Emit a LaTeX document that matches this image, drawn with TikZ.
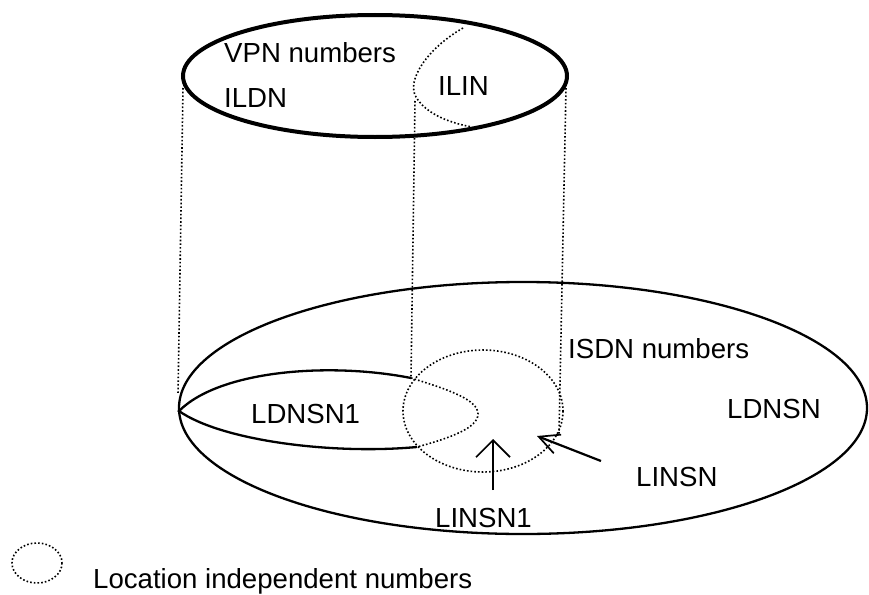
\documentclass[tikz,border=0pt]{standalone}
\usepackage{fontspec}
\setmainfont{Liberation Sans}
\usetikzlibrary{arrows.meta}
\begin{document}
\begin{tikzpicture}[x=1pt,y=-1pt,
  lbl/.style={anchor=base west, inner sep=0pt, font=\fontsize{27.6}{32}\selectfont},
  dots/.style={line width=1.6pt, dash pattern=on 1.6pt off 2.1pt},
  bold/.style={line width=4pt},
  rim/.style={line width=2.3pt},
  pointer/.style={line width=2.2pt, -{Straight Barb[length=17pt,width=34pt,line width=1.7pt]}}
]
\useasboundingbox (0,0) rectangle (869,594);
\fill[white] (0,0) rectangle (869,594);

% upper set: VPN numbers
\draw[bold] (375,76) ellipse [x radius=192, y radius=61];
\draw[dots] (463,28) .. controls (428,48) and (406,80) .. (416,97)
            .. controls (425,112) and (445,122) .. (472,127);

% lower set: ISDN numbers
\draw[rim] (523,408) ellipse [x radius=344, y radius=126];

% LDNSN1 region
\draw[rim] (411,378) .. controls (330,362) and (220,370) .. (179,411)
           .. controls (220,440) and (330,455) .. (417,447);
\draw[dots] (411,378) .. controls (450,390) and (478,400) .. (478,414)
            .. controls (478,428) and (450,438) .. (417,447);

% location independent numbers
\draw[dots] (483,411) ellipse [x radius=80, y radius=61];

% projection lines
\coordinate (pl1) at (183,88);  \coordinate (pl2) at (178,395);
\coordinate (pm1) at (415,101); \coordinate (pm2) at (411,377);
\coordinate (pr1) at (566,88);  \coordinate (pr2) at (559,434);
\draw[dots] (pl1) -- (pl2);
\draw[dots] (pm1) -- (pm2);
\draw[dots] (pr1) -- (pr2);

% pointers
\coordinate (a1tail) at (493,490); \coordinate (a1tip) at (493,439);
\coordinate (a2tail) at (601,461); \coordinate (a2tip) at (537,436);
\draw[pointer] (a1tail) -- (a1tip);
\draw[pointer, -{Straight Barb[length=20pt,width=20pt,line width=1.7pt]}] (a2tail) -- (a2tip);

% legend
\draw[dots] (37,563) ellipse [x radius=25, y radius=20];

% labels
\node[lbl] (vpn)   at (224,63)  {VPN numbers};
\node[lbl] (ildn)  at (224,107) {ILDN};
\node[lbl] (ilin)  at (438,95)  {ILIN};
\node[lbl] (ldnsn1) at (251,423) {LDNSN1};
\node[lbl] (isdn)  at (568,358) {ISDN numbers};
\node[lbl] (ldnsn) at (727,418) {LDNSN};
\node[lbl] (linsn) at (636,486) {LINSN};
\node[lbl] (linsn1) at (435,527) {LINSN1};
\node[lbl] (legend) at (93,588) {Location independent numbers};
\end{tikzpicture}
\end{document}
